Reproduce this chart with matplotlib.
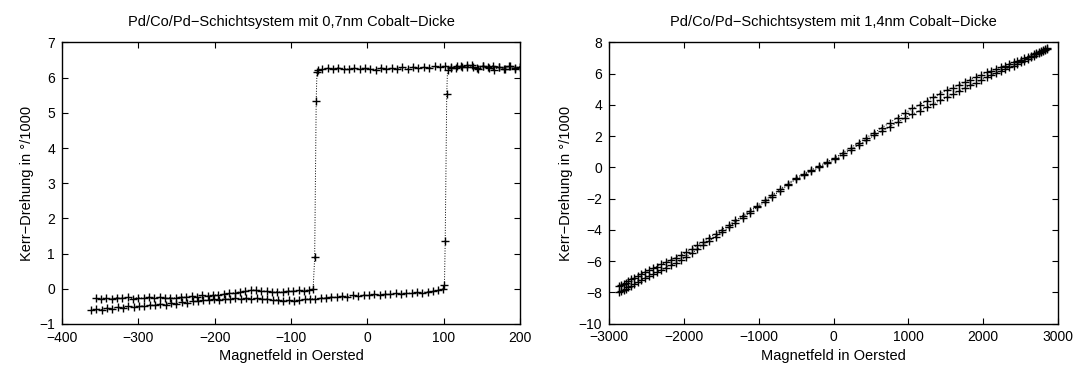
import matplotlib
matplotlib.use("Agg")
import matplotlib.pyplot as plt

plt.rcParams['font.family'] = ['Liberation Sans', 'DejaVu Sans']

# --- left plot: 0,7nm cobalt, hysteresis loop ---
# sweep with decreasing field (upper plateau -> jump at -70 Oe -> lower)
down_high_x = [200, 193, 186, 179, 172, 165, 158, 151, 144, 137, 130, 123, 116, 109, 102,
               95, 88, 81, 74, 67, 60, 53, 46, 39, 32, 25, 18, 11, 4, -3, -10, -17, -24,
               -31, -38, -45, -52, -59, -64]
down_high_y = [6.31, 6.28, 6.33, 6.26, 6.30, 6.34, 6.29, 6.32, 6.27, 6.35, 6.30, 6.33, 6.28,
               6.31, 6.34, 6.30, 6.32, 6.27, 6.30, 6.28, 6.31, 6.26, 6.29, 6.24, 6.27, 6.25,
               6.28, 6.23, 6.26, 6.28, 6.25, 6.27, 6.24, 6.26, 6.28, 6.25, 6.27, 6.24, 6.22]
down_jump_x = [-66, -67, -69, -71]
down_jump_y = [6.17, 5.35, 0.89, 0.0]
down_low_x = [-76, -83, -90, -97, -104, -111, -118, -125, -132, -139, -146, -153, -160, -167,
              -174, -181, -188, -195, -202, -209, -216, -223, -230, -237, -244, -251, -258,
              -265, -272, -279, -286, -293, -300, -307, -314, -321, -328, -335, -342, -349, -355]
down_low_y = [-0.03, -0.05, -0.04, -0.07, -0.06, -0.09, -0.08, -0.10, -0.07, -0.05, -0.03,
              -0.04, -0.06, -0.09, -0.11, -0.13, -0.15, -0.17, -0.18, -0.20, -0.19, -0.22,
              -0.21, -0.24, -0.23, -0.26, -0.25, -0.27, -0.24, -0.26, -0.23, -0.27, -0.25,
              -0.28, -0.24, -0.27, -0.25, -0.29, -0.26, -0.28, -0.27]

# sweep with increasing field (lower plateau -> jump at +100 Oe -> upper)
up_low_x = [-362, -355, -348, -341, -334, -327, -320, -313, -306, -299, -292, -285, -278,
            -271, -264, -257, -250, -243, -236, -229, -222, -215, -208, -201, -194, -187,
            -180, -173, -166, -159, -152, -145, -138, -131, -124, -117, -110, -103, -96,
            -89, -82, -75, -68, -61, -54, -47, -40, -33, -26, -19, -12, -5, 2, 9, 16, 23,
            30, 37, 44, 51, 58, 65, 72, 79, 86, 93, 99]
up_low_y = [-0.60, -0.57, -0.59, -0.55, -0.56, -0.52, -0.54, -0.50, -0.52, -0.48, -0.49,
            -0.46, -0.47, -0.43, -0.45, -0.41, -0.42, -0.38, -0.39, -0.35, -0.36, -0.32,
            -0.33, -0.30, -0.31, -0.28, -0.30, -0.27, -0.29, -0.26, -0.28, -0.27, -0.30,
            -0.29, -0.32, -0.31, -0.34, -0.32, -0.34, -0.31, -0.30, -0.28, -0.29, -0.26,
            -0.25, -0.23, -0.24, -0.21, -0.22, -0.19, -0.20, -0.18, -0.19, -0.16, -0.17,
            -0.15, -0.16, -0.13, -0.14, -0.12, -0.13, -0.10, -0.11, -0.08, -0.07, -0.04, 0.00]
up_jump_x = [101, 102, 104, 105]
up_jump_y = [0.11, 1.37, 5.53, 6.22]
up_high_x = [110, 117, 124, 131, 138, 145, 152, 159, 166, 173, 180, 187, 194, 200]
up_high_y = [6.27, 6.33, 6.29, 6.36, 6.31, 6.25, 6.34, 6.28, 6.22, 6.30, 6.26, 6.33, 6.24, 6.29]

# --- right plot: 1,4nm cobalt ---
field_14 = [-2860, -2835, -2805, -2775, -2740, -2700, -2660, -2615, -2570, -2520, -2470,
            -2415, -2360, -2300, -2240, -2175, -2110, -2040, -1970, -1895, -1820, -1740,
            -1660, -1575, -1490, -1400, -1310, -1215, -1120, -1020, -920, -820, -715, -610,
            -505, -400, -295, -190, -85, 20, 125, 230, 335, 440, 545, 650, 755, 855, 955,
            1055, 1150, 1245, 1335, 1425, 1510, 1595, 1675, 1755, 1830, 1905, 1975, 2045,
            2110, 2175, 2235, 2295, 2350, 2405, 2455, 2505, 2550, 2595, 2635, 2675, 2710,
            2745, 2775, 2805, 2830, 2855]
kerr_14_upper = [-7.60, -7.53, -7.45, -7.38, -7.28, -7.18, -7.07, -6.96, -6.84, -6.71, -6.59,
                 -6.47, -6.35, -6.21, -6.08, -5.93, -5.78, -5.63, -5.45, -5.22, -4.99, -4.75,
                 -4.50, -4.25, -3.99, -3.70, -3.40, -3.10, -2.79, -2.47, -2.12, -1.77, -1.40,
                 -1.05, -0.68, -0.42, -0.17, 0.09, 0.35, 0.61, 0.94, 1.25, 1.58, 1.90, 2.22,
                 2.55, 2.87, 3.18, 3.48, 3.77, 4.01, 4.25, 4.48, 4.72, 4.92, 5.11, 5.28, 5.46,
                 5.62, 5.79, 5.94, 6.08, 6.19, 6.31, 6.42, 6.52, 6.62, 6.73, 6.81, 6.90, 6.99,
                 7.08, 7.16, 7.26, 7.33, 7.41, 7.47, 7.53, 7.58, 7.64]
kerr_14_lower = [-8.00, -7.93, -7.85, -7.78, -7.68, -7.58, -7.47, -7.34, -7.22, -7.09, -6.97,
                 -6.83, -6.71, -6.57, -6.42, -6.27, -6.12, -5.95, -5.75, -5.50, -5.25, -4.99,
                 -4.72, -4.43, -4.15, -3.84, -3.54, -3.22, -2.91, -2.57, -2.22, -1.87, -1.50,
                 -1.13, -0.76, -0.50, -0.25, -0.01, 0.25, 0.51, 0.82, 1.13, 1.44, 1.74, 2.04,
                 2.33, 2.61, 2.88, 3.16, 3.41, 3.63, 3.85, 4.06, 4.28, 4.48, 4.69, 4.88, 5.08,
                 5.26, 5.43, 5.60, 5.76, 5.89, 6.03, 6.16, 6.28, 6.40, 6.51, 6.61, 6.72, 6.83,
                 6.94, 7.04, 7.14, 7.23, 7.31, 7.39, 7.45, 7.52, 7.58]

style = dict(color='black', linestyle=':', linewidth=0.7, marker='+',
             markersize=6, markeredgewidth=1.0)

fig = plt.figure(figsize=(10.76, 3.67), dpi=100)
ax1 = fig.add_axes([0.0576, 0.1172, 0.4257, 0.767])
ax2 = fig.add_axes([0.566, 0.1185, 0.4173, 0.766])

ax1.plot(down_high_x + down_jump_x + down_low_x, down_high_y + down_jump_y + down_low_y, **style)
ax1.plot(up_low_x + up_jump_x + up_high_x, up_low_y + up_jump_y + up_high_y, **style)
ax1.set_xlim(-400, 200)
ax1.set_ylim(-1, 7)
ax1.set_xticks(range(-400, 201, 100))
ax1.set_yticks(range(-1, 8))
ax1.set_title("Pd/Co/Pd\u2212Schichtsystem mit 0,7nm Cobalt\u2212Dicke", fontsize=10.5, pad=12)

ax2.plot(field_14, kerr_14_upper, **style)
ax2.plot(field_14, kerr_14_lower, **style)
ax2.set_xlim(-3000, 3000)
ax2.set_ylim(-10, 8)
ax2.set_xticks(range(-3000, 3001, 1000))
ax2.set_yticks(range(-10, 9, 2))
ax2.set_title("Pd/Co/Pd\u2212Schichtsystem mit 1,4nm Cobalt\u2212Dicke", fontsize=10.5, pad=12)

for ax in (ax1, ax2):
    ax.set_xlabel("Magnetfeld in Oersted", fontsize=10.5, labelpad=3)
    ax.set_ylabel("Kerr\u2212Drehung in °/1000", fontsize=10.5, labelpad=4)
    ax.tick_params(direction='in', top=True, right=True, length=4, width=0.8,
                   labelsize=10, pad=5)
    for s in ax.spines.values():
        s.set_linewidth(1.0)

fig.savefig("out.png", dpi=100)
